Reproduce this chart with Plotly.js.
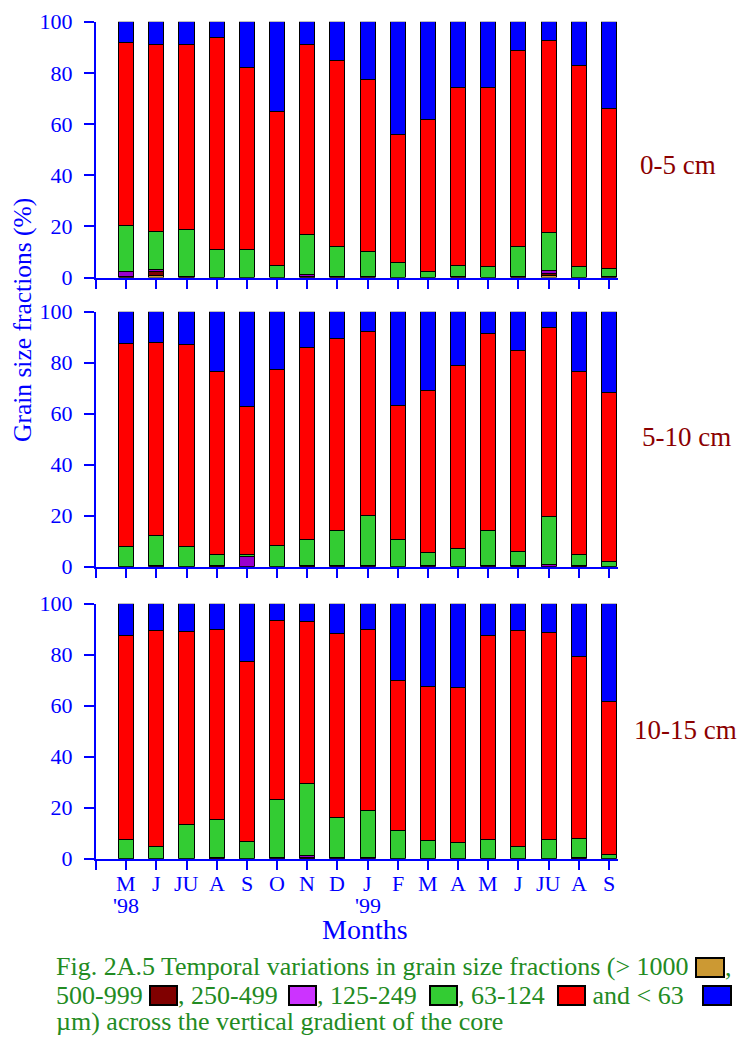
<!DOCTYPE html>
<html>
<head>
<meta charset="utf-8">
<script src="https://cdn.plot.ly/plotly-3.0.1.min.js"></script>
<style>html,body{margin:0;padding:0;background:#fff;}#chart{width:741px;height:1037px;}</style>
</head>
<body>
<div id="chart"></div>
<script>
// ---- Data ----
const months = ["M","J","JU","A","S","O","N","D","J","F","M","A","M","J","JU","A","S"];
const yearLabels = ["'98","'99"];
const yearLabelMonthIndex = [1, 9];
const fractionNames = ["> 1000 µm","500-999 µm","250-499 µm","125-249 µm","63-124 µm","< 63 µm"];
const depthLabels = ["0-5 cm","5-10 cm","10-15 cm"];

// 0-5 cm
const d1_gt1000 = [0,0.9,0,0,0,0,0,0,0,0,0,0,0,0,0.9,0,0];
const d1_500_999 = [0.5,1.3,0.5,0,0,0,0.4,0.5,0.5,0,0,0.5,0,0.5,0.5,0,0.5];
const d1_250_499 = [2.0,0.9,0,0,0,0,0.9,0,0,0,0,0,0,0,1.5,0,0];
const d1_125_249 = [17.7,15.0,18.4,11.0,11.0,4.7,15.6,11.8,9.7,5.9,2.5,4.2,4.2,11.8,14.7,4.2,2.9];
const d1_63_124 = [71.5,72.8,72.0,82.9,71.1,60.1,74.0,72.7,67.2,50.0,59.3,69.4,69.9,76.5,75.0,78.7,62.7];
const d1_lt63 = [8.3,9.1,9.1,6.1,17.9,35.2,9.1,15.0,22.6,44.1,38.2,25.9,25.9,11.2,7.4,17.1,33.9];

// 5-10 cm
const d2_gt1000 = [0,0,0,0,0,0,0,0,0,0,0,0,0,0,0,0,0];
const d2_500_999 = [0,0,0,0.5,0,0,0.5,0,0,0,0,0,0,0.5,0,0.5,0];
const d2_250_499 = [0,0.5,0,0,4.0,0,0,0.5,0.5,0,0.5,0,0.5,0,0.8,0,0];
const d2_125_249 = [7.8,11.7,7.8,4.1,0.6,8.5,10.3,13.6,19.6,10.8,4.9,7.1,13.6,5.3,18.9,4.1,2.1];
const d2_63_124 = [79.8,75.8,79.4,72.0,58.1,69.0,75.1,75.3,72.2,52.5,63.6,71.7,77.4,78.9,74.3,72.0,66.1];
const d2_lt63 = [12.4,12.0,12.8,23.4,37.3,22.5,14.1,10.6,7.7,36.7,31.0,21.2,8.5,15.3,6.0,23.4,31.8];

// 10-15 cm
const d3_gt1000 = [0,0,0,0,0,0,0,0,0,0,0,0,0,0,0,0,0];
const d3_500_999 = [0,0,0,0.5,0,0,0.3,0,0,0,0,0,0,0,0,0.5,0];
const d3_250_499 = [0,0,0,0,0,0.5,0.8,0.5,0.5,0,0,0,0,0,0,0,0];
const d3_125_249 = [7.6,4.8,13.6,14.9,6.8,22.9,28.2,15.7,18.5,11.1,7.2,6.4,7.7,4.8,7.7,7.6,1.8];
const d3_63_124 = [79.9,84.7,75.6,74.5,70.6,69.9,63.8,72.2,70.9,58.7,60.4,60.8,79.8,84.7,81.1,71.2,59.9];
const d3_lt63 = [12.5,10.5,10.8,10.1,22.6,6.7,6.9,11.6,10.1,30.2,32.4,32.8,12.5,10.5,11.2,20.7,38.3];

// ---- Styles ----
const barColors = ["#CC9933","#800000","#9900CC","#33CC33","#FF0000","#0000FF"];
const legendColors = ["#CC9933","#800000","#CC33FF","#33CC33","#FF0000","#0000FF"];
const BLUE = "#0000FF";
const SERIF = "Liberation Serif, Times New Roman, serif";
const W = 741, H = 1037;
const px = v => v / W;
const py = v => 1 - v / H;

const panels = [
  {data:[d1_gt1000,d1_500_999,d1_250_499,d1_125_249,d1_63_124,d1_lt63], xa:"x", ya:"y"},
  {data:[d2_gt1000,d2_500_999,d2_250_499,d2_125_249,d2_63_124,d2_lt63], xa:"x2", ya:"y2"},
  {data:[d3_gt1000,d3_500_999,d3_250_499,d3_125_249,d3_63_124,d3_lt63], xa:"x3", ya:"y3"}
];
const xIdx = months.map((m, i) => i + 1);

const traces = [];
panels.forEach(p => {
  p.data.forEach((vals, k) => {
    traces.push({
      type: "bar", x: xIdx, y: vals, name: fractionNames[k],
      xaxis: p.xa, yaxis: p.ya, width: 0.5,
      marker: {color: barColors[k], line: {color: "#000", width: 1}},
      hoverinfo: "y+name"
    });
  });
});

// panel pixel geometry (y of 100 and 0)
const panelPx = [[21.7, 277.5], [311.7, 566.7], [603.7, 858.7]];
const xDom = [px(96), px(618)];

function yAxis(i) {
  return {
    domain: [py(panelPx[i][1]), py(panelPx[i][0])],
    range: [0, 100], tickvals: [0,20,40,60,80,100],
    ticks: "outside", ticklen: 10, tickwidth: 2, tickcolor: BLUE,
    ticklabelstandoff: 7,
    showline: true, linecolor: BLUE, linewidth: 2,
    showgrid: false, zeroline: false, fixedrange: true,
    tickfont: {family: SERIF, size: 22, color: BLUE},
    anchor: i === 0 ? "x" : "x" + (i + 1)
  };
}
const tickvalsX = [0].concat(xIdx);
function xAxis(i) {
  return {
    domain: xDom, range: [0, 17.3],
    tickvals: tickvalsX, showticklabels: false,
    ticks: "outside", ticklen: 9, tickwidth: 2, tickcolor: BLUE,
    showline: true, linecolor: BLUE, linewidth: 2,
    showgrid: false, zeroline: false, fixedrange: true,
    anchor: i === 0 ? "y" : "y" + (i + 1)
  };
}

const annotations = [];
// month labels under the bottom panel
months.forEach((m, i) => annotations.push({text: m, xref: "x3", yref: "paper",
  x: xIdx[i], y: py(883), showarrow: false,
  font: {family: SERIF, size: 22, color: BLUE}, xanchor: "center", yanchor: "middle"}));
// y-axis title
annotations.push({text: "Grain size fractions (%)", xref: "paper", yref: "paper",
  x: px(22), y: py(320), textangle: -90, showarrow: false,
  font: {family: SERIF, size: 25.5, color: BLUE}, xanchor: "center", yanchor: "middle"});
// depth labels
const depthPx = [[678,165],[686,437],[685,730]];
depthLabels.forEach((t, i) => annotations.push({text: t, xref: "paper", yref: "paper",
  x: px(depthPx[i][0]), y: py(depthPx[i][1]), showarrow: false,
  font: {family: SERIF, size: 27, color: "#8B0000"}, xanchor: "center", yanchor: "middle"}));
// year labels
yearLabels.forEach((t, i) => annotations.push({text: t, xref: "x3", yref: "paper",
  x: yearLabelMonthIndex[i], y: py(905), showarrow: false,
  font: {family: SERIF, size: 22, color: BLUE}, xanchor: "center", yanchor: "middle"}));
// x title
annotations.push({text: "Months", xref: "paper", yref: "paper", x: px(365), y: py(929),
  showarrow: false, font: {family: SERIF, size: 28, color: BLUE}, xanchor: "center", yanchor: "middle"});

// caption
const CAP = "#228B22";
const capFont = {family: SERIF, size: 26, color: CAP};
const capText = [
  {t: "Fig. 2A.5 Temporal variations in grain size fractions (&gt; 1000", x: 55, y: 966},
  {t: ",", x: 724, y: 967},
  {t: "500-999", x: 55, y: 995},
  {t: ", 250-499", x: 177, y: 995},
  {t: ", 125-249", x: 316, y: 995},
  {t: ", 63-124", x: 457, y: 995},
  {t: " and &lt; 63", x: 585, y: 995},
  {t: "µm) across the vertical gradient of the core", x: 55, y: 1021}
];
capText.forEach(c => annotations.push({text: c.t, xref: "paper", yref: "paper",
  x: px(c.x), y: py(c.y), showarrow: false, font: capFont, xanchor: "left", yanchor: "middle",
  borderpad: 0}));

const squares = [[696,958,724,977],[150,986,177,1005],[289,986,316,1005],[430,986,457,1005],[558,986,585,1005],[703,986,731,1005]];
const shapes = squares.map((s, k) => ({type: "rect", xref: "paper", yref: "paper",
  x0: px(s[0]), x1: px(s[2]), y0: py(s[3]), y1: py(s[1]),
  fillcolor: legendColors[k], line: {color: "#000", width: 2}}));

const layout = {
  width: W, height: H, margin: {l: 0, r: 0, t: 0, b: 0},
  paper_bgcolor: "#fff", plot_bgcolor: "#fff",
  barmode: "stack", showlegend: false,
  xaxis: xAxis(0), xaxis2: xAxis(1), xaxis3: xAxis(2),
  yaxis: yAxis(0), yaxis2: yAxis(1), yaxis3: yAxis(2),
  annotations: annotations, shapes: shapes
};
Plotly.newPlot("chart", traces, layout, {displayModeBar: false, staticPlot: true});
</script>
</body>
</html>
